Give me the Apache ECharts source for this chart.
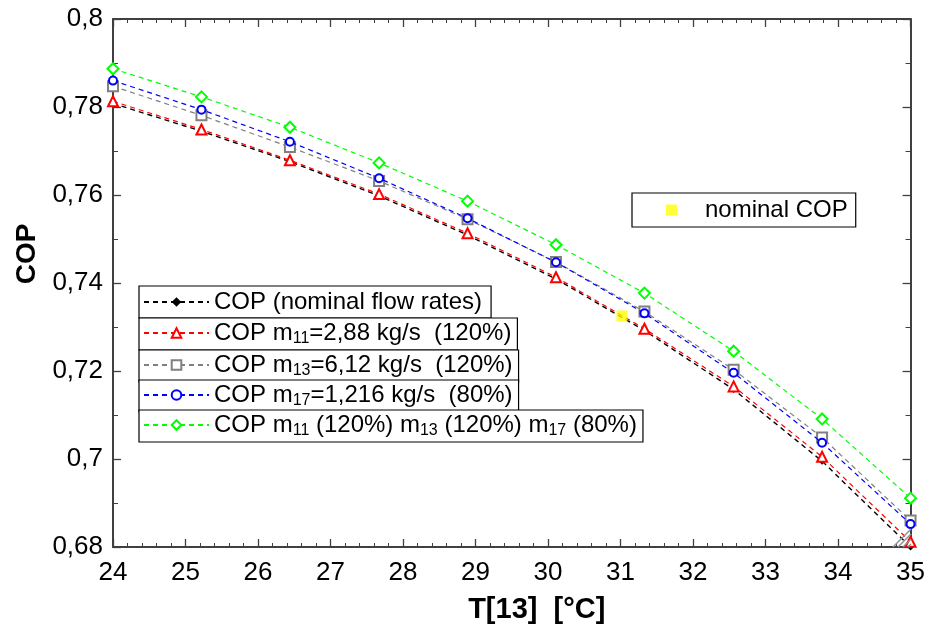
<!DOCTYPE html>
<html><head><meta charset="utf-8">
<script src="https://cdn.jsdelivr.net/npm/echarts@6/dist/echarts.min.js"></script>
<style>html,body{margin:0;padding:0;background:#fff}#c{width:928px;height:629px}</style>
</head><body><div id="c"></div>
<script>
// ---- data ----
const temps = [24, 25.22, 26.44, 27.67, 28.89, 30.11, 31.33, 32.56, 33.78, 35];
const copNominal = [0.7808, 0.7745, 0.7676, 0.7598, 0.7509, 0.7409, 0.7292, 0.7158, 0.6995, 0.6800];
const copM11 = [0.7813, 0.7749, 0.7679, 0.7602, 0.7513, 0.7413, 0.7296, 0.7165, 0.7005, 0.6812];
const copM13 = [0.7847, 0.7781, 0.7709, 0.7632, 0.7545, 0.7448, 0.7335, 0.7203, 0.7049, 0.6860];
const copM17 = [0.7860, 0.7794, 0.7721, 0.7638, 0.7547, 0.7447, 0.7331, 0.7196, 0.7037, 0.6852];
const copAll = [0.7887, 0.7823, 0.7754, 0.7673, 0.7586, 0.7487, 0.7377, 0.7245, 0.7091, 0.6911];
const nominalCopT = [31.02];
const nominalCopValue = [0.7325];
const xRange = [24, 35, 1];
const yRange = [0.68, 0.8, 0.02];
const seriesNames = ['COP (nominal flow rates)', 'COP m11=2,88 kg/s  (120%)', 'COP m13=6,12 kg/s  (120%)', 'COP m17=1,216 kg/s  (80%)', 'COP m11 (120%) m13 (120%) m17 (80%)'];
const seriesLabels = ['COP (nominal flow rates)', 'COP m{s|11}=2,88 kg/s  (120%)', 'COP m{s|13}=6,12 kg/s  (120%)', 'COP m{s|17}=1,216 kg/s  (80%)', 'COP m{s|11} (120%) m{s|13} (120%) m{s|17} (80%)'];
const nominalName = 'nominal COP';

const FONT = 'Liberation Sans, Arial, sans-serif';
const pairs = arr => temps.map((t, i) => [t, arr[i]]);
const chart = echarts.init(document.getElementById('c'));
const fmtY = v => String(parseFloat(v.toFixed(2))).replace('.', ',');

const styles = [
  {color: '#000000', symbol: 'diamond', size: 7},
  {color: '#ff0000', symbol: 'emptyTriangle', size: 10},
  {color: '#808080', symbol: 'emptyRect', size: 10},
  {color: '#0000ff', symbol: 'emptyCircle', size: 8},
  {color: '#00ff00', symbol: 'emptyDiamond', size: 11}
];
const dataSets = [copNominal, copM11, copM13, copM17, copAll];

const lineSeries = dataSets.map((d, i) => ({
  type: 'line', name: seriesNames[i], data: pairs(d),
  symbol: styles[i].symbol, symbolSize: styles[i].size, showSymbol: true,
  lineStyle: {color: styles[i].color, width: i === 0 ? 1.4 : 1.2, type: [5, 4]},
  itemStyle: {color: styles[i].color, borderWidth: 1.2},
  emphasis: {disabled: true}, animation: false, z: 2 + i
}));

const legendTops = [286, 318, 350, 380, 410];
const legends = seriesNames.map((n, i) => ({
  data: [n], left: 139, top: legendTops[i], orient: 'horizontal',
  itemWidth: 65, itemHeight: 12,
  padding: i === 0 ? [4, 9, 4, 4] : [3, 6, 3, 4],
  borderColor: '#000', borderWidth: 1.2, backgroundColor: '#fff',
  selectedMode: false, z: 10 + i,
  formatter: () => seriesLabels[i],
  textStyle: {fontFamily: FONT, fontSize: 24, color: '#000',
    rich: {s: {fontFamily: FONT, fontSize: 16, color: '#000', padding: [12, 0, 0, 0]}}}
}));
legends.push({
  data: [{name: nominalName, icon: 'rect'}], left: 632, top: 193,
  itemWidth: 11, itemHeight: 11, padding: [5, 8, 5, 34],
  borderColor: '#000', borderWidth: 1.2, backgroundColor: '#fff', selectedMode: false,
  textStyle: {fontFamily: FONT, fontSize: 24, color: '#000', padding: [0, 0, 0, 23]}
});

const axisLineStyle = {color: '#404040', width: 2};
const xBase = {
  type: 'value', min: xRange[0], max: xRange[1], interval: xRange[2],
  axisLine: {show: true, lineStyle: axisLineStyle, onZero: false},
  axisTick: {show: true, inside: true, length: 8, lineStyle: {color: '#404040', width: 1.3}},
  minorTick: {show: true, splitNumber: 5, length: 4, lineStyle: {color: '#404040', width: 1}},
  splitLine: {show: false}
};
const yBase = {
  type: 'value', min: yRange[0], max: yRange[1], interval: yRange[2],
  axisLine: {show: true, lineStyle: axisLineStyle, onZero: false},
  axisTick: {show: true, inside: true, length: 8, lineStyle: {color: '#404040', width: 1.3}},
  minorTick: {show: true, splitNumber: 2, length: 5, lineStyle: {color: '#404040', width: 1}},
  splitLine: {show: false}
};

chart.setOption({
  backgroundColor: '#fff',
  animation: false,
  grid: {left: 113, right: 15, top: 19, bottom: 80, containLabel: false},
  legend: legends,
  xAxis: [
    Object.assign({}, xBase, {position: 'bottom',
      axisLabel: {fontFamily: FONT, fontSize: 26, color: '#000', margin: 13},
      name: 'T[13]  [°C]', nameLocation: 'middle', nameGap: 48,
      nameTextStyle: {fontFamily: FONT, fontSize: 29, fontWeight: 'bold', color: '#000', padding: [0, 0, 0, 50]}}),
    Object.assign({}, xBase, {position: 'top', axisLabel: {show: false}})
  ],
  yAxis: [
    Object.assign({}, yBase, {position: 'left',
      axisLabel: {fontFamily: FONT, fontSize: 26, color: '#000', margin: 10, formatter: fmtY},
      name: 'COP', nameLocation: 'middle', nameGap: 72,
      nameTextStyle: {fontFamily: FONT, fontSize: 28, fontWeight: 'bold', color: '#000', padding: [0, 0, 0, 58]}}),
    Object.assign({}, yBase, {position: 'right', axisLabel: {show: false}})
  ],
  series: lineSeries.concat([{
    type: 'scatter', name: nominalName,
    data: nominalCopT.map((t, i) => [t, nominalCopValue[i]]),
    symbol: 'rect', symbolSize: 11, itemStyle: {color: '#ffff00'}, z: 9,
    emphasis: {disabled: true}
  }]),
  graphic: [0, 1, 2, 3].map(k => ({
    type: 'line', silent: true, z: 20,
    shape: {x1: 893 + k * 5, y1: 547, x2: 911, y2: 529 + k * 5},
    style: {stroke: '#909090', lineWidth: 1.5}
  }))
});
</script>
</body></html>
